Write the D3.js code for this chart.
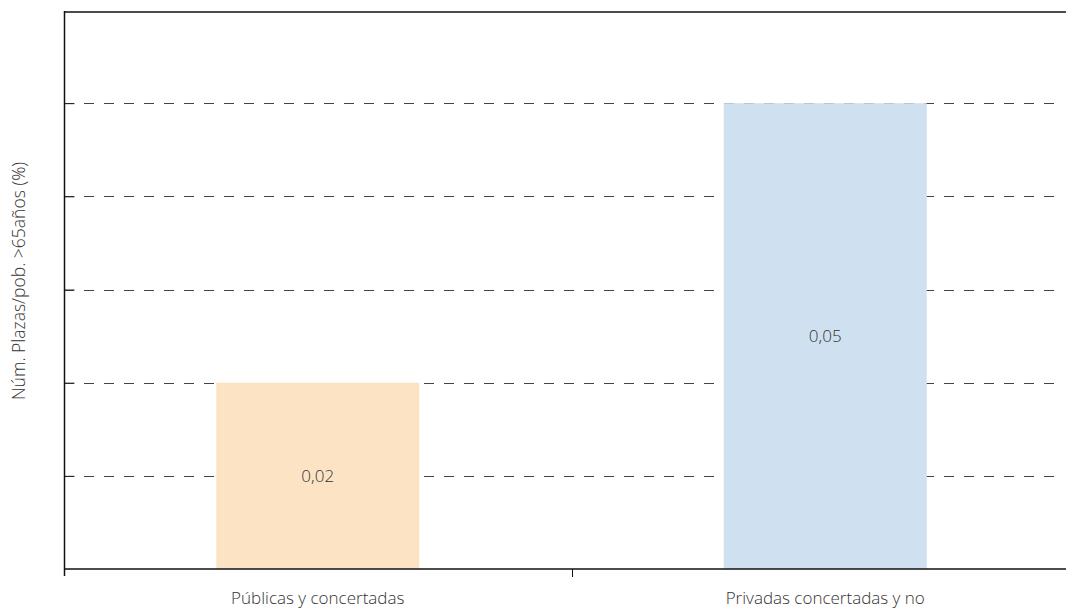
<!DOCTYPE html>
<html><head><meta charset="utf-8">
<script src="https://cdn.jsdelivr.net/npm/d3@7"></script>
<style>body{margin:0;background:#fff}svg{display:block}text{font-family:"Open Sans",Lato,sans-serif;font-weight:300;fill:#333}</style>
</head><body>
<script>
const categories = ["Públicas y concertadas", "Privadas concertadas y no"];
const values = [0.02, 0.05];
const valueLabels = ["0,02", "0,05"];
const colors = ["#fbe3c4", "#cfe1f0"];
const gridValues = [0.01, 0.02, 0.03, 0.04, 0.05];
const yTitle = "Núm. Plazas/pob. >65años (%)";

const W = 1066, H = 611;
const svg = d3.select("body").append("svg").attr("width", W).attr("height", H);
const x = d3.scaleBand().domain(categories).range([64, 1079]).paddingInner(0.6).paddingOuter(0.3);
const y = d3.scaleLinear().domain([0, 0.06]).range([569, 10]);

// gridlines
svg.append("g").selectAll("line").data(gridValues).join("line")
  .attr("x1", 64).attr("x2", 1057)
  .attr("y1", d => Math.round(y(d)) + 0.5).attr("y2", d => Math.round(y(d)) + 0.5)
  .attr("stroke", "#444").attr("stroke-width", 1).attr("stroke-dasharray", "10,10");

// bars
svg.append("g").selectAll("rect").data(values).join("rect")
  .attr("x", (d, i) => x(categories[i])).attr("width", x.bandwidth())
  .attr("y", d => y(d)).attr("height", d => y(0) - y(d))
  .attr("fill", (d, i) => colors[i]);

// value labels
svg.append("g").selectAll("text").data(values).join("text")
  .attr("x", (d, i) => x(categories[i]) + x.bandwidth() / 2)
  .attr("y", d => (y(d) + y(0)) / 2)
  .attr("dy", "0.35em").attr("text-anchor", "middle").attr("font-size", 17)
  .text((d, i) => valueLabels[i]);

// left axis with inner ticks, no labels
const yAxis = svg.append("g").attr("transform", "translate(64.5,0)")
  .call(d3.axisRight(y).tickValues(gridValues).tickSize(10).tickFormat(""));
yAxis.select(".domain").remove();
yAxis.selectAll("line").attr("stroke", "#222");
svg.append("line").attr("x1", 64.5).attr("x2", 64.5).attr("y1", 11).attr("y2", 576).attr("stroke", "#111").attr("stroke-width", 1.5);
// top border
svg.append("line").attr("x1", 64).attr("x2", W).attr("y1", 12).attr("y2", 12).attr("stroke", "#111").attr("stroke-width", 1.5);

// bottom axis
const xAxis = svg.append("g").attr("transform", "translate(0,569)")
  .call(d3.axisBottom(x).tickSize(0).tickPadding(0));
xAxis.select(".domain").remove();
xAxis.selectAll("text").attr("font-size", 17).attr("y", 35).attr("dy", 0).style("font-family", null);
svg.append("line").attr("x1", 64).attr("x2", W).attr("y1", 569).attr("y2", 569).attr("stroke", "#111").attr("stroke-width", 1.5);
// band boundary tick
svg.append("line").attr("x1", Math.round(x(categories[1]) - x.step() * x.paddingInner() / 2) + 0.5)
  .attr("x2", Math.round(x(categories[1]) - x.step() * x.paddingInner() / 2) + 0.5)
  .attr("y1", 569).attr("y2", 577).attr("stroke", "#111");

// y title
svg.append("text").attr("transform", "translate(25,281) rotate(-90)")
  .attr("text-anchor", "middle").attr("font-size", 17.5).text(yTitle);
</script>
</body></html>
